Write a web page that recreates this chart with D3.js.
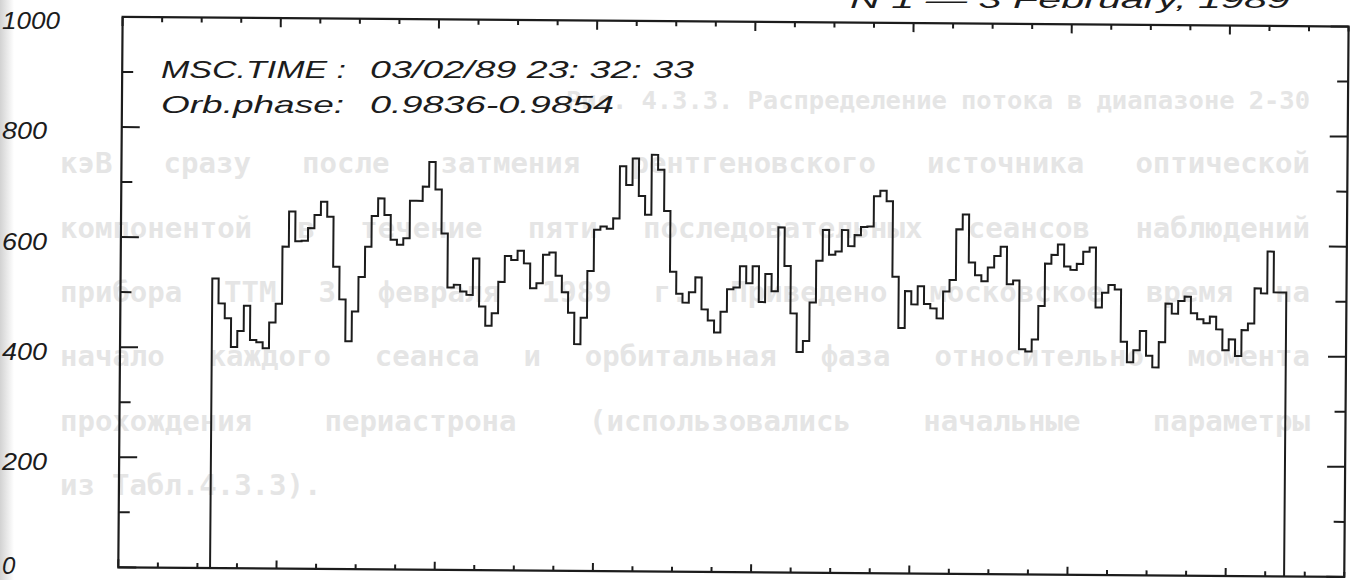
<!DOCTYPE html>
<html><head><meta charset="utf-8">
<script src="https://cdn.jsdelivr.net/npm/d3@7"></script>
<style>html,body{margin:0;padding:0;background:#fff;overflow:hidden}svg{display:block}</style>
</head><body>
<svg id="chart" width="1357" height="580"></svg>
<script>
// ---------- data ----------
const counts = [
526,481,454,402,431,477,415,411,400,447,481,585,649,595,596,619,643,667,640,549,
490,414,468,531,586,642,674,644,599,590,602,670,670,696,741,691,611,513,518,506,
500,566,479,444,467,524,571,564,581,558,513,522,574,578,536,506,469,412,460,545,
620,626,622,641,736,702,750,682,648,757,730,655,545,505,489,508,535,477,457,435,
473,514,517,556,525,556,491,542,511,627,557,471,401,421,491,567,623,578,584,623,
594,614,629,630,685,695,676,539,446,513,489,522,490,482,464,513,534,626,653,566,
543,532,557,578,595,527,534,409,405,427,488,565,581,600,560,554,565,587,595,486,
513,527,519,424,387,409,444,399,378,424,494,476,499,507,477,466,459,471,448,410,
430,400,447,459,523,514,590,516,516
];
const binStart = 2.32;      // time of first bin (axis units)
const binWidth = 0.1607;    // bin duration (axis units)
const xDomain = [0, 31];
const yDomain = [0, 1000];
const yMajorTicks = [0, 200, 400, 600, 800, 1000];
const yMinorTicks = [100, 300, 500, 700, 900];
const yTickLabels = ["0", "200", "400", "600", "800", "1000"];
const annotationKeys = ["MSC.TIME :", "Orb.phase:"];
const annotationValues = ["03/02/89 23: 32: 33", "0.9836-0.9854"];
const titleText = "N 1  \u2014  3 February, 1989";
const ghostLines = [
  "Рис. 4.3.3. Распределение потока в диапазоне 2-30",
  "кэВ сразу после затмения рентгеновского источника оптической",
  "компонентой в течение пяти последовательных сеансов наблюдений",
  "прибора ТТМ 3 февраля 1989 г. Приведено московское время на",
  "начало каждого сеанса и орбитальная фаза относительно момента",
  "прохождения периастрона (использовались начальные параметры",
  "из Табл.4.3.3)."
];

// ---------- layout ----------
const svg = d3.select("#chart");
const ink = "#1c1c1c";
const x = d3.scaleLinear().domain(xDomain).range([118.3, 1344.3]);
const y = d3.scaleLinear().domain(yDomain).range([567.3, 16.9]);

// scan shadow at left edge
const defs = svg.append("defs");
const g0 = defs.append("linearGradient").attr("id","edge").attr("x1","0").attr("x2","1");
g0.append("stop").attr("offset","0").attr("stop-color","#d2d2d2");
g0.append("stop").attr("offset","1").attr("stop-color","#ffffff");
svg.append("rect").attr("x",0).attr("y",0).attr("width",14).attr("height",580).attr("fill","url(#edge)");

// ghost (show-through) text, justified word by word (last line left-aligned)
const ghostX = [566, 60, 60, 60, 60, 60, 60];
const ghostW = [744, 1250, 1250, 1250, 1250, 1250, 0];
const ghostG = svg.append("g")
  .attr("font-family","DejaVu Sans Mono").attr("font-weight","bold")
  .attr("fill","#e5e5e5");
ghostLines.forEach((line, i) => {
  const words = line.split(" ");
  let fs = 29;
  const t = ghostG.append("text").attr("y", 109 + i*64.3).attr("font-size", fs);
  const spans = words.map(w => t.append("tspan").text(w));
  let widths = spans.map(s => s.node().getComputedTextLength());
  let total = d3.sum(widths);
  const justify = ghostW[i] > 0;
  const minGap = 14;
  if (justify && total + minGap*(words.length-1) > ghostW[i]) {
    fs = fs * (ghostW[i] - minGap*(words.length-1)) / total;
    t.attr("font-size", fs);
    widths = spans.map(s => s.node().getComputedTextLength());
    total = d3.sum(widths);
  }
  const gap = (justify && words.length > 1) ? (ghostW[i] - total) / (words.length - 1) : 17;
  let cx = ghostX[i];
  spans.forEach((s,k) => { s.attr("x", cx); cx += widths[k] + gap; });
});

// rotated plot (scan skew)
const plot = svg.append("g").attr("transform","rotate(0.45 118.3 567.3)");

const xAll = d3.range(xDomain[0], xDomain[1] + 1);
function tickLen(v, major, minor){ return (v % 4 === 0) ? major : minor; }

plot.append("g").selectAll("line").data(xAll).join("line")
  .attr("x1",d=>x(d)).attr("x2",d=>x(d))
  .attr("y1",y(0)).attr("y2",d=>y(0)-tickLen(d,8,5))
  .attr("stroke",ink).attr("stroke-width",2);
plot.append("g").selectAll("line").data(xAll).join("line")
  .attr("x1",d=>x(d)).attr("x2",d=>x(d))
  .attr("y1",y(1000)).attr("y2",d=>y(1000)+tickLen(d,9,5))
  .attr("stroke",ink).attr("stroke-width",2);

const yAll = yMajorTicks.concat(yMinorTicks);
plot.append("g").selectAll("line").data(yAll).join("line")
  .attr("x1",x(0)).attr("x2",d=>x(0)+(d%200===0?18:11))
  .attr("y1",d=>y(d)).attr("y2",d=>y(d))
  .attr("stroke",ink).attr("stroke-width",2);
plot.append("g").selectAll("line").data(yAll).join("line")
  .attr("x1",x(31)).attr("x2",d=>x(31)-(d%200===0?18:11))
  .attr("y1",d=>y(d)).attr("y2",d=>y(d))
  .attr("stroke",ink).attr("stroke-width",2);

plot.append("rect")
  .attr("x",x(0)).attr("y",y(1000))
  .attr("width",x(31)-x(0)).attr("height",y(0)-y(1000))
  .attr("fill","none").attr("stroke",ink).attr("stroke-width",2.2);

// step light curve
const pts = [[binStart, 0]];
counts.forEach((c,i)=>pts.push([binStart + i*binWidth, c]));
const tEnd = binStart + counts.length*binWidth;
pts.push([tEnd, counts[counts.length-1]]);
pts.push([tEnd, 0]);
const line = d3.line().x(d=>x(d[0])).y(d=>y(d[1])).curve(d3.curveStepAfter);
plot.append("path").attr("d",line(pts))
  .attr("fill","none").attr("stroke",ink).attr("stroke-width",2)
  .attr("stroke-linejoin","miter");

// y labels
const lblW = {"0":11,"200":45,"400":45,"600":45,"800":45,"1000":58};
svg.append("g").selectAll("text").data(yMajorTicks).join("text")
  .attr("x",2).attr("y",d=>Math.min(y(d)+4, y(0)-2))
  .attr("dominant-baseline","central")
  .attr("font-family","Liberation Sans").attr("font-style","italic")
  .attr("font-size",24).attr("fill",ink)
  .each(function(d,i){ const t=yTickLabels[i]; if(t.length>1) d3.select(this).attr("textLength",lblW[t]).attr("lengthAdjust","spacingAndGlyphs"); })
  .text((d,i)=>yTickLabels[i]);

// annotation
const annY = [78, 113];
const keyW = [185, 183];
const valW = [324, 244];
const ann = svg.append("g").attr("font-family","Liberation Sans").attr("font-style","italic")
  .attr("font-size",24).attr("fill",ink);
ann.selectAll("text.k").data(annotationKeys).join("text").attr("class","k")
  .attr("x",161).attr("y",(d,i)=>annY[i])
  .attr("textLength",(d,i)=>keyW[i]).attr("lengthAdjust","spacingAndGlyphs").text(d=>d);
ann.selectAll("text.v").data(annotationValues).join("text").attr("class","v")
  .attr("x",370).attr("y",(d,i)=>annY[i])
  .attr("textLength",(d,i)=>valW[i]).attr("lengthAdjust","spacingAndGlyphs").text(d=>d);

// title (cut off at top of scan, as in the original)
svg.append("text").attr("x",1290).attr("y",8).attr("text-anchor","end")
  .attr("font-family","Liberation Sans").attr("font-style","italic")
  .attr("font-size",24).attr("fill",ink).attr("textLength",440).attr("lengthAdjust","spacingAndGlyphs")
  .text(titleText);
</script>
</body></html>
